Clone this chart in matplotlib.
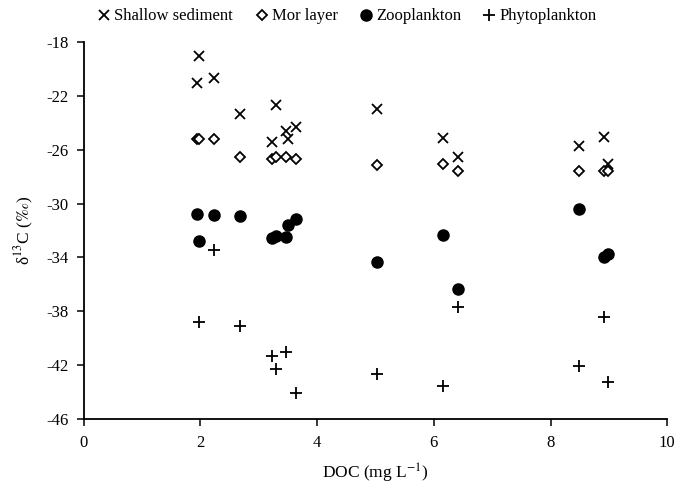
import numpy as np
import matplotlib
matplotlib.use("Agg")
import matplotlib.pyplot as plt

plt.rcParams['font.family'] = ['Liberation Serif', 'DejaVu Serif']
plt.rcParams['mathtext.fontset'] = 'stix'
plt.rcParams['axes.unicode_minus'] = False

# DOC (mg/L) and d13C (permil)
shallow_x = [1.98, 1.94, 2.23, 2.67, 3.30, 3.23, 3.46, 3.63, 3.50, 5.02, 6.16, 6.42, 8.48, 8.92, 8.99]
shallow_y = [-19.04, -21.08, -20.67, -23.36, -22.67, -25.44, -24.62, -24.30, -25.21, -22.97,
             -25.12, -26.57, -25.71, -25.04, -27.09]

mor_x = [1.94, 1.98, 2.23, 2.67, 3.23, 3.30, 3.46, 3.63, 5.02, 6.42, 6.16, 8.48, 8.92, 8.99]
mor_y = [-25.21, -25.21, -25.19, -26.57, -26.70, -26.55, -26.55, -26.72, -27.14, -27.59,
         -27.09, -27.59, -27.59, -27.59]

zoo_x = [1.94, 2.23, 2.67, 1.98, 3.23, 3.30, 3.46, 3.50, 3.63, 5.02, 6.16, 8.48, 8.92, 8.99, 6.42]
zoo_y = [-30.79, -30.87, -30.92, -32.77, -32.53, -32.38, -32.46, -31.61, -31.17, -34.31,
         -32.33, -30.42, -33.98, -33.74, -36.33]

phyto_x = [2.23, 1.98, 2.67, 3.23, 3.46, 3.30, 3.63, 5.02, 6.42, 8.92, 8.48, 8.99, 6.16]
phyto_y = [-33.44, -38.80, -39.07, -41.28, -41.00, -42.24, -44.02, -42.61, -37.64, -38.39,
           -42.06, -43.20, -43.50]

x_ticks = [0, 2, 4, 6, 8, 10]
y_ticks = [-46, -42, -38, -34, -30, -26, -22, -18]

fig = plt.figure(figsize=(6.78, 4.97), dpi=100)
ax = fig.add_axes([0.1235, 0.1563, 0.8607, 0.7598])

ax.plot(shallow_x, shallow_y, linestyle='none', marker='x', ms=7.5, mew=1.3,
        color='black', label='Shallow sediment', clip_on=False)
ax.plot(mor_x, mor_y, linestyle='none', marker='D', ms=5, mew=1.3,
        mfc='white', mec='black', label='Mor layer', clip_on=False)
ax.plot(zoo_x, zoo_y, linestyle='none', marker='o', ms=8,
        color='black', label='Zooplankton', clip_on=False)
ax.plot(phyto_x, phyto_y, linestyle='none', marker='+', ms=8, mew=1.3,
        color='black', label='Phytoplankton', clip_on=False)

ax.set_xlim(0, 10)
ax.set_ylim(-46, -18)
ax.set_xticks(x_ticks)
ax.set_yticks(y_ticks)
ax.tick_params(direction='out', length=5, width=1.1, labelsize=12, colors='black', pad=6)

for s in ['top', 'right']:
    ax.spines[s].set_visible(False)
for s in ['left', 'bottom']:
    ax.spines[s].set_linewidth(1.3)

ax.set_xlabel('DOC (mg L$^{-1}$)', fontsize=12.5, labelpad=8)
ax.set_ylabel('δ$^{13}$C ($\\it{‰}$)', fontsize=12.5, labelpad=7)

fig.legend(loc='center', bbox_to_anchor=(0.512, 0.967), ncol=4, frameon=False,
           fontsize=12, handlelength=0.8, handletextpad=0.2, columnspacing=1.3,
           borderaxespad=0)

fig.savefig('out.png', dpi=100)
